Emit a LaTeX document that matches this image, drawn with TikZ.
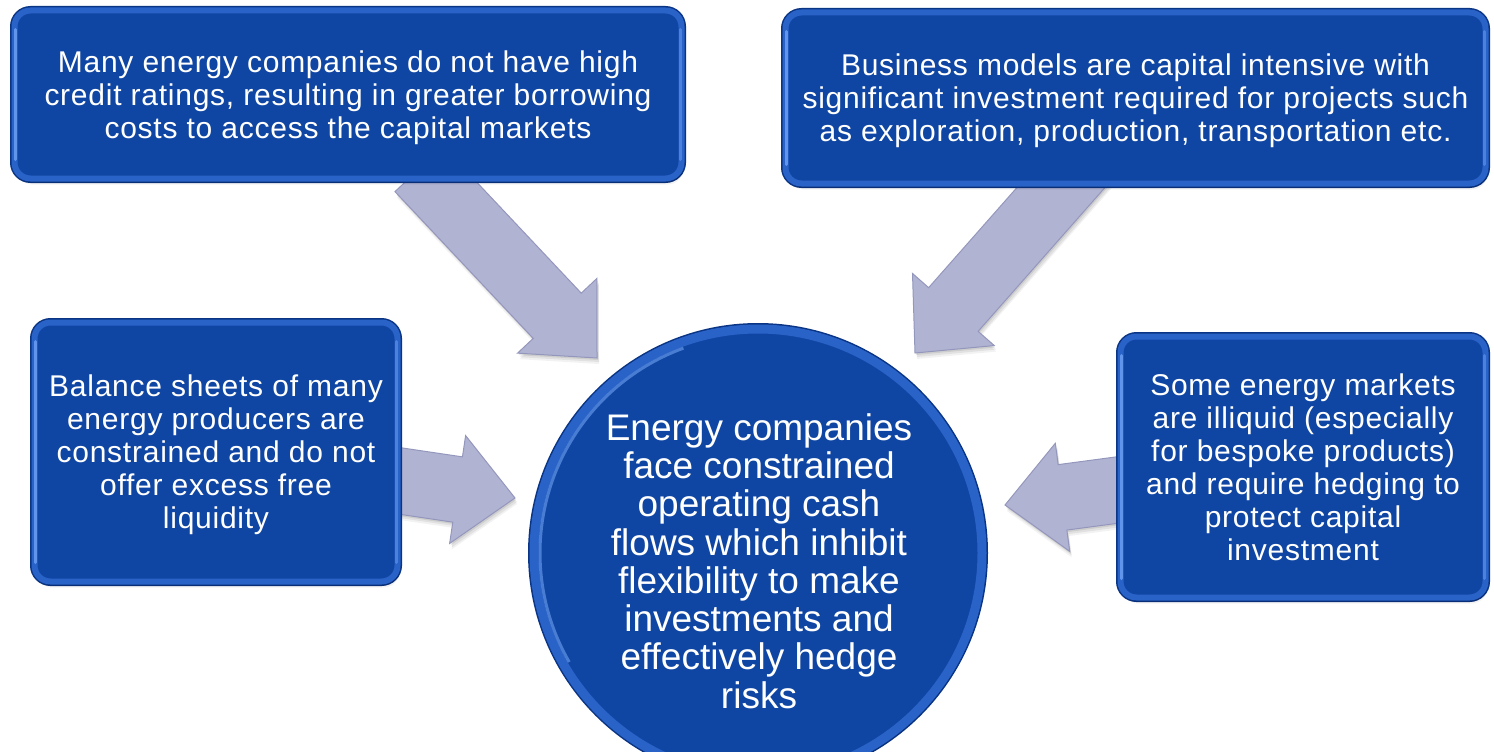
\documentclass[tikz,border=0pt]{standalone}
\usepackage{fontspec}
\setmainfont{Liberation Sans}
\newfontfamily\boxfont{Liberation Sans}[LetterSpace=2.5]
\usetikzlibrary{calc,shadows}

\definecolor{boxblue}{HTML}{1046A3}
\definecolor{rimblue}{HTML}{2A63C8}
\definecolor{edgeblue}{HTML}{0A3484}
\definecolor{hiblue}{HTML}{6EA2F4}
\definecolor{arrowfill}{HTML}{B1B3D3}
\definecolor{arrowedge}{HTML}{9497BC}

\tikzset{
  softshadow/.style={
    general shadow={fill=black, opacity=0.05, shadow xshift=2pt, shadow yshift=-6pt},
    general shadow={fill=black, opacity=0.07, shadow xshift=2pt, shadow yshift=-4pt},
    general shadow={fill=black, opacity=0.09, shadow xshift=1pt, shadow yshift=-2pt}},
  bluebox/.style={rectangle, rounded corners=16pt, fill=boxblue, draw=rimblue,
    line width=6pt, preaction={draw=edgeblue, line width=9pt}, softshadow,
    text=white, align=center, inner sep=0pt},
  hub/.style={circle, fill=boxblue, draw=rimblue, line width=9pt,
    preaction={draw=edgeblue, line width=12pt}, softshadow, inner sep=0pt},
  boxtext/.style={font=\boxfont\fontsize{30}{33}\selectfont, text depth=-4pt},
  hubtext/.style={text=white, align=center, inner sep=0pt,
    font=\fontsize{37}{38.3}\selectfont},
  arrowbody/.style={fill=arrowfill, draw=arrowedge, line width=1pt, softshadow},
  glint/.style={hiblue, line width=3pt, line cap=round, opacity=0.8},
}

% block arrow from tail #1 to tip #2
\newcommand\blockarrow[2]{%
  \coordinate (hb) at ($(#2)!58pt!(#1)$);
  \draw[arrowbody]
    ($(#1)!33pt!90:(#2)$) -- ($(hb)!33pt!90:(#2)$) --
    ($(hb)!54.5pt!90:(#2)$) -- (#2) -- ($(hb)!54.5pt!-90:(#2)$) --
    ($(hb)!33pt!-90:(#2)$) -- ($(#1)!33pt!-90:(#2)$) -- cycle;
}

\begin{document}
\begin{tikzpicture}[x=1pt, y=-1pt]
\useasboundingbox (0,0) rectangle (1494,752);
\clip (0,0) rectangle (1494,752);

% arrow ends
\coordinate (tlOut) at (419,169);
\coordinate (tlIn)  at (597,358);
\coordinate (trOut) at (1087,158);
\coordinate (trIn)  at (915,353);
\coordinate (mlOut) at (380,478);
\coordinate (mlIn)  at (515,498);
\coordinate (mrOut) at (1140,487);
\coordinate (mrIn)  at (1005,505);

\blockarrow{tlOut}{tlIn}
\blockarrow{trOut}{trIn}
\blockarrow{mlOut}{mlIn}
\blockarrow{mrOut}{mrIn}

% outer boxes
\node[bluebox, boxtext, minimum width=667pt, minimum height=168pt] (tl) at (348,94.5)
  {Many energy companies do not have high\\credit ratings, resulting in greater borrowing\\costs to access the capital markets};
\node[bluebox, boxtext, minimum width=700pt, minimum height=171pt] (tr) at (1135.5,98)
  {Business models are capital intensive with\\significant investment required for projects such\\as exploration, production, transportation etc.};
\node[bluebox, boxtext, minimum width=363pt, minimum height=259pt] (ml) at (216,452)
  {Balance sheets of many\\energy producers are\\constrained and do not\\offer excess free\\liquidity};
\node[bluebox, boxtext, minimum width=365pt, minimum height=261pt] (mr) at (1303,467)
  {Some energy markets\\are illiquid (especially\\for bespoke products)\\and require hedging to\\protect capital\\investment};

% bevel glints along the side edges
\foreach \b in {tl,tr,ml,mr}{
  \draw[glint] ([xshift=4pt,yshift=-22pt]\b.north west) -- ([xshift=4pt,yshift=22pt]\b.south west);
  \draw[glint, opacity=0.5] ([xshift=-4pt,yshift=-22pt]\b.north east) -- ([xshift=-4pt,yshift=22pt]\b.south east);
}

% central hub
\node[hub, minimum size=448pt] (hub) at (758,553) {};
\draw[hiblue, line width=3pt, opacity=0.6] (hub.center) ++(150:218) arc[start angle=150, end angle=250, radius=218];
\node[hubtext] (hubLabel) at (759,561)
  {Energy companies\\face constrained\\operating cash\\flows which inhibit\\flexibility to make\\investments and\\effectively hedge\\risks};
\end{tikzpicture}
\end{document}
